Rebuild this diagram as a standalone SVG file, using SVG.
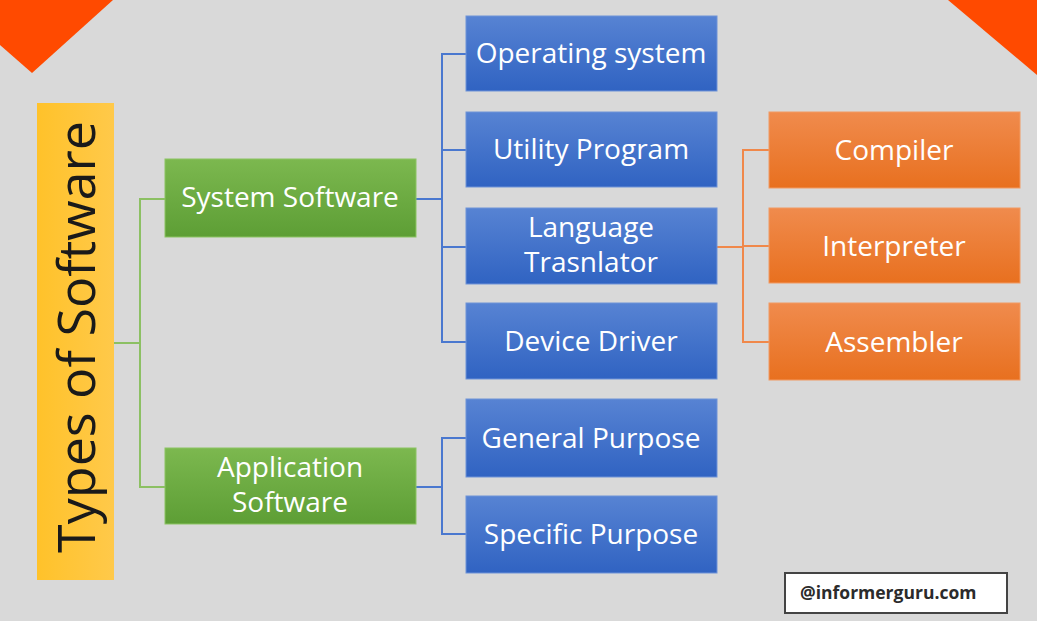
<svg xmlns="http://www.w3.org/2000/svg" width="1037" height="621" viewBox="0 0 1037 621">
<defs>
<linearGradient id="gBlue" x1="0" y1="0" x2="0" y2="1"><stop offset="0" stop-color="#5783d3"/><stop offset="1" stop-color="#3063c2"/></linearGradient>
<linearGradient id="gGreen" x1="0" y1="0" x2="0" y2="1"><stop offset="0" stop-color="#7cb84f"/><stop offset="1" stop-color="#5d9e35"/></linearGradient>
<linearGradient id="gOrange" x1="0" y1="0" x2="0" y2="1"><stop offset="0" stop-color="#f08b4d"/><stop offset="1" stop-color="#e8701f"/></linearGradient>
<linearGradient id="gYellow" x1="0" y1="0" x2="1" y2="0"><stop offset="0" stop-color="#ffc22a"/><stop offset="1" stop-color="#ffc94a"/></linearGradient>
<style>
.box{stroke-width:1}
.blue{fill:url(#gBlue);stroke:#6f93d8}
.green{fill:url(#gGreen);stroke:#8cc463}
.orange{fill:url(#gOrange);stroke:#f29a63}
.t{font-family:"Open Sans","Noto Sans",sans-serif;font-size:28px;fill:#ffffff;text-anchor:middle}
.lb{stroke:#4a78cf;stroke-width:2;fill:none}
.lg{stroke:#8cc063;stroke-width:2;fill:none}
.lo{stroke:#f0884a;stroke-width:2;fill:none}
</style>
</defs>
<rect width="1037" height="621" fill="#d9d9d9"/>
<polygon points="0,0 113,0 32,73 0,45" fill="#ff4a00"/>
<polygon points="948,0 1037,0 1037,75" fill="#ff4a00"/>

<g id="connectors">
<polyline class="lg" points="114,343 140,343"/>
<polyline class="lg" points="165,199 140,199 140,487 165,487"/>
<polyline class="lb" points="416,199 442,199"/>
<polyline class="lb" points="466,54 442,54 442,342 466,342"/>
<polyline class="lb" points="442,150 466,150"/>
<polyline class="lb" points="442,247 466,247"/>
<polyline class="lb" points="416,487 442,487"/>
<polyline class="lb" points="466,438 442,438 442,534 466,534"/>
<polyline class="lo" points="717,247 743,247"/>
<polyline class="lo" points="769,150 743,150 743,342 769,342"/>
<polyline class="lo" points="743,246 769,246"/>
</g>

<g id="root">
<rect x="37" y="103" width="77" height="477" fill="url(#gYellow)"/>
<text transform="translate(95,337) rotate(-90)" style="font-family:'Open Sans','Noto Sans',sans-serif;font-size:52px;fill:#1a1a1a;text-anchor:middle">Types of Software</text>
</g>

<g id="system-software"><rect class="box green" x="165" y="159" width="251" height="78"/><text class="t" x="290" y="207">System Software</text></g>
<g id="application-software"><rect class="box green" x="165" y="448" width="251" height="76"/><text class="t" x="290" y="477">Application</text><text class="t" x="290" y="512">Software</text></g>

<g id="operating-system"><rect class="box blue" x="466" y="16" width="251" height="75"/><text class="t" x="591" y="63">Operating system</text></g>
<g id="utility-program"><rect class="box blue" x="466" y="112" width="251" height="75"/><text class="t" x="591" y="159">Utility Program</text></g>
<g id="language-translator"><rect class="box blue" x="466" y="208" width="251" height="76"/><text class="t" x="591" y="237">Language</text><text class="t" x="591" y="272">Trasnlator</text></g>
<g id="device-driver"><rect class="box blue" x="466" y="303" width="251" height="76"/><text class="t" x="591" y="351">Device Driver</text></g>
<g id="general-purpose"><rect class="box blue" x="466" y="399" width="251" height="78"/><text class="t" x="591" y="448">General Purpose</text></g>
<g id="specific-purpose"><rect class="box blue" x="466" y="496" width="251" height="77"/><text class="t" x="591" y="544">Specific Purpose</text></g>

<g id="compiler"><rect class="box orange" x="769" y="112" width="251" height="76"/><text class="t" x="894" y="160">Compiler</text></g>
<g id="interpreter"><rect class="box orange" x="769" y="208" width="251" height="75"/><text class="t" x="894" y="256">Interpreter</text></g>
<g id="assembler"><rect class="box orange" x="769" y="303" width="251" height="77"/><text class="t" x="894" y="352">Assembler</text></g>

<g id="watermark"><rect x="785" y="573" width="222" height="40" fill="#ffffff" stroke="#444444" stroke-width="2"/><text x="800" y="599" style="font-family:'Open Sans','Noto Sans',sans-serif;font-size:17.5px;font-weight:bold;fill:#2b2b2b">@informerguru.com</text></g>
</svg>
